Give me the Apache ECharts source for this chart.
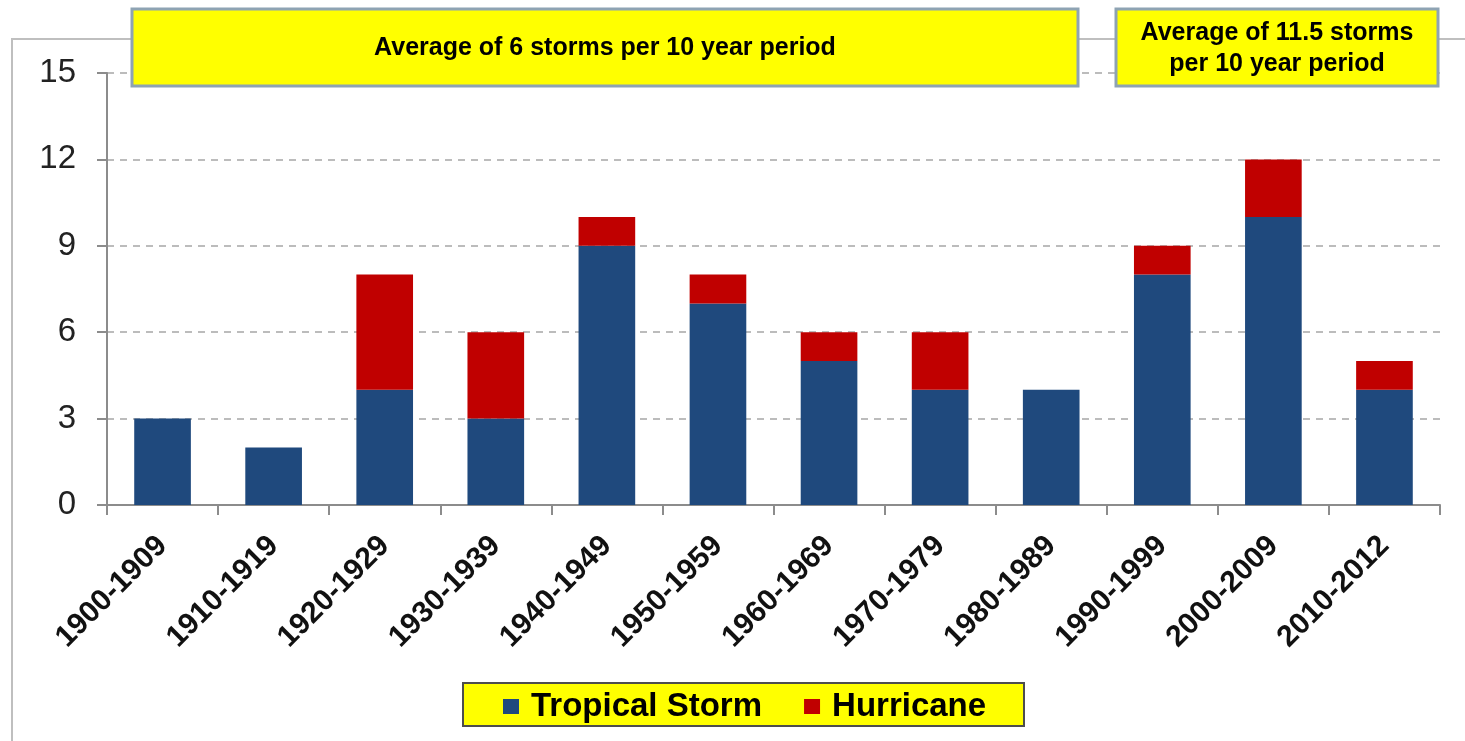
<!DOCTYPE html>
<html>
<head>
<meta charset="utf-8">
<script src="https://cdn.jsdelivr.net/npm/echarts@6/dist/echarts.min.js"></script>
<style>
  html, body { margin: 0; padding: 0; background: #ffffff; }
  #chart { width: 1465px; height: 741px; }
</style>
</head>
<body>
<div id="chart"></div>
<script>
// Storm counts per decade
const periods = ['1900-1909', '1910-1919', '1920-1929', '1930-1939', '1940-1949', '1950-1959',
                 '1960-1969', '1970-1979', '1980-1989', '1990-1999', '2000-2009', '2010-2012'];
const tropicalStorms = [3, 2, 4, 3, 9, 7, 5, 4, 4, 8, 10, 4];
const hurricanes     = [0, 0, 4, 3, 1, 1, 1, 2, 0, 1, 2, 1];
const yTicks = { min: 0, max: 15, interval: 3 };
const noteLeft = 'Average of 6 storms per 10 year period';
const noteRight = 'Average of 11.5 storms\nper 10 year period';

const FONT = "'Liberation Sans', Arial, sans-serif";
const BLUE = '#1f497d';
const RED = '#c00000';

const chart = echarts.init(document.getElementById('chart'), null, { renderer: 'canvas' });

chart.setOption({
  backgroundColor: '#ffffff',
  animation: false,
  grid: { left: 107, right: 25, top: 73, bottom: 236, containLabel: false },
  legend: {
    data: ['Tropical Storm', 'Hurricane'],
    left: 498,
    top: 685,
    itemWidth: 16,
    itemHeight: 15,
    itemGap: 42,
    icon: 'rect',
    textStyle: { fontFamily: FONT, fontWeight: 'bold', fontSize: 33, color: '#000', padding: [0, 0, 0, 7] }
  },
  xAxis: {
    type: 'category',
    data: periods,
    axisLine: { lineStyle: { color: '#8c8c8c', width: 2 } },
    axisTick: { show: true, length: 10, lineStyle: { color: '#8c8c8c', width: 2 } },
    axisLabel: {
      rotate: 45,
      margin: 36,
      interval: 0,
      fontFamily: FONT,
      fontWeight: 'bold',
      fontSize: 30,
      color: '#111'
    }
  },
  yAxis: {
    type: 'value',
    min: yTicks.min,
    max: yTicks.max,
    interval: yTicks.interval,
    axisLine: { show: true, lineStyle: { color: '#8c8c8c', width: 2 } },
    axisTick: { show: true, length: 10, lineStyle: { color: '#8c8c8c', width: 2 } },
    axisLabel: { margin: 31, fontFamily: FONT, fontSize: 33, color: '#222' },
    splitLine: { show: true, lineStyle: { color: '#a6a6a6', width: 1.5, type: [7, 6] } }
  },
  series: [
    {
      name: 'Tropical Storm',
      type: 'bar',
      stack: 'storms',
      barWidth: '51%',
      itemStyle: { color: BLUE },
      data: tropicalStorms
    },
    {
      name: 'Hurricane',
      type: 'bar',
      stack: 'storms',
      barWidth: '51%',
      itemStyle: { color: RED },
      data: hurricanes
    }
  ],
  graphic: [
    // outer frame
    {
      type: 'rect', z: -10, silent: true,
      shape: { x: 12, y: 39, width: 1600, height: 900 },
      style: { fill: null, stroke: '#bfbfbf', lineWidth: 2 }
    },
    // left note
    {
      type: 'rect', z: 10,
      shape: { x: 132, y: 9, width: 946, height: 77 },
      style: { fill: '#ffff00', stroke: '#8ea3b3', lineWidth: 3 }
    },
    {
      type: 'text', z: 11,
      x: 605, y: 48,
      style: {
        text: noteLeft, fill: '#000', font: "bold 25px " + FONT,
        textAlign: 'center', textVerticalAlign: 'middle'
      }
    },
    // right note
    {
      type: 'rect', z: 10,
      shape: { x: 1116, y: 9, width: 322, height: 77 },
      style: { fill: '#ffff00', stroke: '#8ea3b3', lineWidth: 3 }
    },
    {
      type: 'text', z: 11,
      x: 1277, y: 49,
      style: {
        text: noteRight, fill: '#000', font: "bold 25px " + FONT, lineHeight: 31,
        textAlign: 'center', textVerticalAlign: 'middle'
      }
    },
    // legend panel
    {
      type: 'rect', z: 1,
      shape: { x: 463, y: 683, width: 561, height: 43 },
      style: { fill: '#ffff00', stroke: '#4d4d4d', lineWidth: 2 }
    }
  ]
});
</script>
</body>
</html>
